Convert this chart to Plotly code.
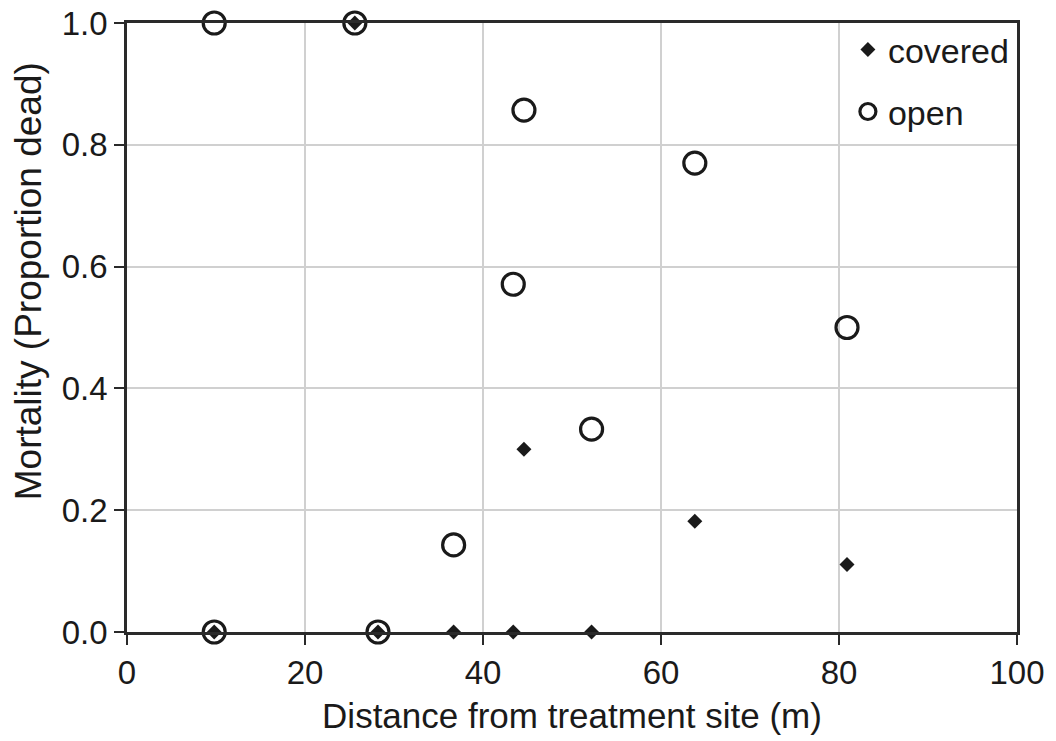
import plotly.graph_objects as go

open_x = [9.8, 25.6, 44.6, 63.8, 43.4, 80.9, 52.2, 36.7, 9.8, 28.2]
open_y = [1.0, 1.0, 0.857, 0.770, 0.571, 0.500, 0.333, 0.143, 0.0, 0.0]
cov_x = [25.6, 44.6, 63.8, 80.9, 9.8, 28.2, 36.7, 43.4, 52.2]
cov_y = [1.0, 0.300, 0.182, 0.111, 0.0, 0.0, 0.0, 0.0, 0.0]

x_ticks = [0, 20, 40, 60, 80, 100]
y_ticks = [0.0, 0.2, 0.4, 0.6, 0.8, 1.0]

FONT = "Liberation Sans, Arial, sans-serif"
INK = "#1a1a1a"
FRAME = "#2a2a2a"

fig = go.Figure()
fig.add_trace(go.Scatter(
    x=open_x, y=open_y, mode="markers", name="open",
    marker=dict(symbol="circle-open", size=22, color=INK, line=dict(width=3.2, color=INK)),
    legend="legend2", cliponaxis=False,
))
fig.add_trace(go.Scatter(
    x=cov_x, y=cov_y, mode="markers", name="covered",
    marker=dict(symbol="diamond", size=11.5, color=INK),
    legend="legend", cliponaxis=False,
))

fig.update_layout(
    width=1056, height=741,
    margin=dict(l=127, r=39, t=23, b=109, autoexpand=False),
    paper_bgcolor="white", plot_bgcolor="white",
    font=dict(family=FONT, color=INK),
    legend=dict(x=0.81, y=0.956, xanchor="left", yanchor="middle",
                bgcolor="rgba(0,0,0,0)", font=dict(size=34, family=FONT, color=INK),
                itemwidth=30),
    legend2=dict(x=0.81, y=0.854, xanchor="left", yanchor="middle",
                 bgcolor="rgba(0,0,0,0)", font=dict(size=34, family=FONT, color=INK),
                 itemwidth=30),
    showlegend=True,
    annotations=[dict(
        text="Mortality (Proportion dead)", textangle=-90,
        xref="paper", yref="paper", x=0, y=0.576, xanchor="center", yanchor="middle",
        xshift=-99, showarrow=False,
        font=dict(size=37, family=FONT, color=INK),
    )],
)
fig.update_xaxes(
    range=[0, 100], tickvals=x_ticks, ticktext=[str(v) for v in x_ticks],
    showgrid=True, gridcolor="#d0d0d0", gridwidth=1.5,
    showline=True, linecolor=FRAME, linewidth=2.5, mirror=True,
    ticks="outside", ticklen=10, tickcolor=FRAME, tickwidth=2,
    tickfont=dict(size=33, family=FONT, color=INK), ticklabeloverflow="allow",
    title=dict(text="Distance from treatment site (m)", font=dict(size=35, family=FONT, color=INK), standoff=14),
    zeroline=False, automargin=False,
)
fig.update_yaxes(
    range=[0, 1.0], tickvals=y_ticks, ticktext=[f"{v:.1f}" for v in y_ticks],
    showgrid=True, gridcolor="#d0d0d0", gridwidth=1.5,
    showline=True, linecolor=FRAME, linewidth=2.5, mirror=True,
    ticks="outside", ticklen=10, tickcolor=FRAME, tickwidth=2,
    tickfont=dict(size=33, family=FONT, color=INK), ticklabeloverflow="allow",
    zeroline=False, automargin=False,
)

fig.write_html("out.html", config={"displayModeBar": False},
               post_script="document.body.style.margin='0';")
